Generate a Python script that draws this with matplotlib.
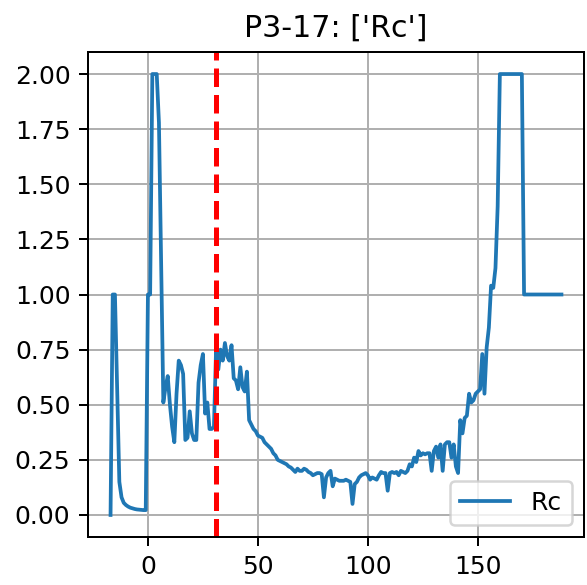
import numpy as np
import matplotlib
matplotlib.use('Agg')
import matplotlib.pyplot as plt

# Frame index (one sample per step) and the Rc values
frames = list(range(-17, 189))
rc_values = [
    0.0, 1.0, 1.0, 0.58, 0.15, 0.08, 0.055, 0.045, 0.038, 0.033,          # -17 .. -8
    0.03, 0.027, 0.025, 0.024, 0.023, 0.022, 0.022,                       # -7 .. -1
    1.0, 1.0, 2.0, 2.0, 2.0, 1.78, 1.15, 0.51, 0.58, 0.63,                # 0 .. 9
    0.50, 0.40, 0.33, 0.55, 0.70, 0.68, 0.64, 0.34, 0.35, 0.47,           # 10 .. 19
    0.37, 0.34, 0.34, 0.60, 0.68, 0.73, 0.46, 0.51, 0.39, 0.39,           # 20 .. 29
    0.40, 0.76, 0.66, 0.75, 0.70, 0.78, 0.72, 0.70, 0.77, 0.62,           # 30 .. 39
    0.61, 0.57, 0.67, 0.58, 0.56, 0.65, 0.43, 0.41, 0.39, 0.38,           # 40 .. 49
    0.36, 0.355, 0.35, 0.33, 0.32, 0.31, 0.30, 0.28, 0.27, 0.25,          # 50 .. 59
    0.245, 0.24, 0.235, 0.23, 0.22, 0.215, 0.205, 0.195, 0.21, 0.20,      # 60 .. 69
    0.20, 0.21, 0.205, 0.195, 0.19, 0.18, 0.185, 0.19, 0.19, 0.185,       # 70 .. 79
    0.08, 0.17, 0.19, 0.20, 0.13, 0.165, 0.16, 0.155, 0.155, 0.155,       # 80 .. 89
    0.16, 0.155, 0.15, 0.05, 0.14, 0.15, 0.17, 0.18, 0.185, 0.19,         # 90 .. 99
    0.18, 0.16, 0.17, 0.165, 0.16, 0.18, 0.195, 0.19, 0.19, 0.11,         # 100 .. 109
    0.19, 0.195, 0.19, 0.195, 0.18, 0.20, 0.195, 0.19, 0.20, 0.23,        # 110 .. 119
    0.22, 0.26, 0.24, 0.29, 0.27, 0.28, 0.275, 0.28, 0.28, 0.20,          # 120 .. 129
    0.29, 0.31, 0.26, 0.32, 0.20, 0.32, 0.33, 0.33, 0.26, 0.32,           # 130 .. 139
    0.22, 0.19, 0.43, 0.37, 0.44, 0.45, 0.55, 0.51, 0.52, 0.55,           # 140 .. 149
    0.56, 0.57, 0.73, 0.55, 0.76, 0.85, 1.04, 1.03, 1.12, 1.40,           # 150 .. 159
    2.0, 2.0, 2.0, 2.0, 2.0, 2.0, 2.0, 2.0, 2.0, 2.0,                     # 160 .. 169
    2.0, 1.0, 1.0, 1.0, 1.0, 1.0, 1.0, 1.0, 1.0, 1.0,                     # 170 .. 179
    1.0, 1.0, 1.0, 1.0, 1.0, 1.0, 1.0, 1.0, 1.0,                          # 180 .. 188
]
event_frame = 31
series_name = 'Rc'
title = "P3-17: ['Rc']"

# Create the graph...
fig = plt.figure(figsize=(587 / 180, 585 / 180), dpi=180)
ax = fig.add_axes([88 / 587, 48 / 585, 496 / 587, 485 / 585])
ax.plot(frames, rc_values, label=series_name)
ax.axvline(event_frame, color='red', linestyle='--', linewidth=2)
ax.set_title(title)
ax.grid(True)
ax.legend(loc='lower right')

# Write the file.
fig.savefig('out.png', dpi=180)
